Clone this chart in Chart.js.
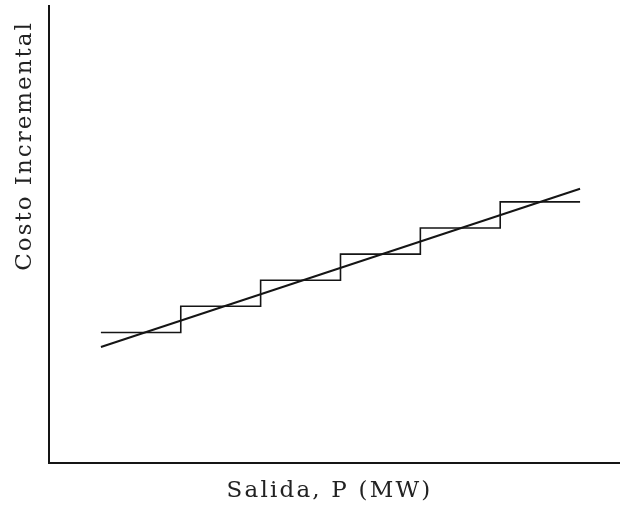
<!DOCTYPE html>
<html>
<head>
<meta charset="utf-8">
<title>Costo Incremental</title>
<script src="https://cdn.jsdelivr.net/npm/chart.js@4.4.1/dist/chart.umd.min.js"></script>
<style>
  html, body { margin: 0; padding: 0; background: #fff; }
  #wrap { width: 620px; height: 521px; position: relative; }
</style>
</head>
<body>
<div id="wrap"><canvas id="chart"></canvas></div>
<script>
// Datos de la curva escalonada (costo incremental por bloques)
const stepX = [1, 2, 3, 4, 5, 6, 7];
const stepY = [5, 6, 7, 8, 9, 10, 10];

// Aproximación lineal del costo incremental
const lineX = [1, 7];
const lineY = [4.44, 10.5];

// Textos de los ejes
const xTitle = 'Salida, P (MW)';
const yTitle = 'Costo Incremental';

const ink = '#151515';

// Dibuja los títulos de los ejes en la posición del original
const axisTitles = {
    id: 'axisTitles',
    afterDraw(chart) {
        const { ctx, chartArea } = chart;
        ctx.save();
        ctx.font = '23px "DejaVu Serif"';
        ctx.fillStyle = '#222';
        ctx.textAlign = 'center';
        ctx.textBaseline = 'middle';
        ctx.letterSpacing = '2.2px';
        ctx.fillText(xTitle, (chartArea.left + chartArea.right) / 2 - 5, chartArea.bottom + 28);
        ctx.letterSpacing = '2px';
        ctx.translate(chartArea.left - 24, chartArea.top + 140);
        ctx.rotate(-Math.PI / 2);
        ctx.fillText(yTitle, 0, 0);
        ctx.restore();
    }
};

const ctx = document.getElementById('chart').getContext('2d');

new Chart(ctx, {
    type: 'line',
    data: {
        datasets: [
            {
                label: 'Escalonado',
                data: stepX.map((x, i) => ({ x: x, y: stepY[i] })),
                stepped: 'before',
                borderColor: ink,
                borderWidth: 1.6,
                pointRadius: 0,
                fill: false
            },
            {
                label: 'Lineal',
                data: lineX.map((x, i) => ({ x: x, y: lineY[i] })),
                borderColor: ink,
                borderWidth: 2,
                pointRadius: 0,
                fill: false
            }
        ]
    },
    options: {
        responsive: true,
        maintainAspectRatio: false,
        animation: false,
        layout: {
            padding: { left: 41, top: 6, right: 0, bottom: 50 }
        },
        plugins: {
            legend: { display: false },
            tooltip: { enabled: false }
        },
        scales: {
            x: {
                type: 'linear',
                min: 0.35,
                max: 7.5,
                grid: { display: false },
                ticks: { display: false },
                border: { display: true, color: ink, width: 2 }
            },
            y: {
                type: 'linear',
                min: 0,
                max: 17.5,
                grid: { display: false },
                ticks: { display: false },
                border: { display: true, color: ink, width: 2 }
            }
        }
    },
    plugins: [axisTitles]
});
</script>
</body>
</html>
